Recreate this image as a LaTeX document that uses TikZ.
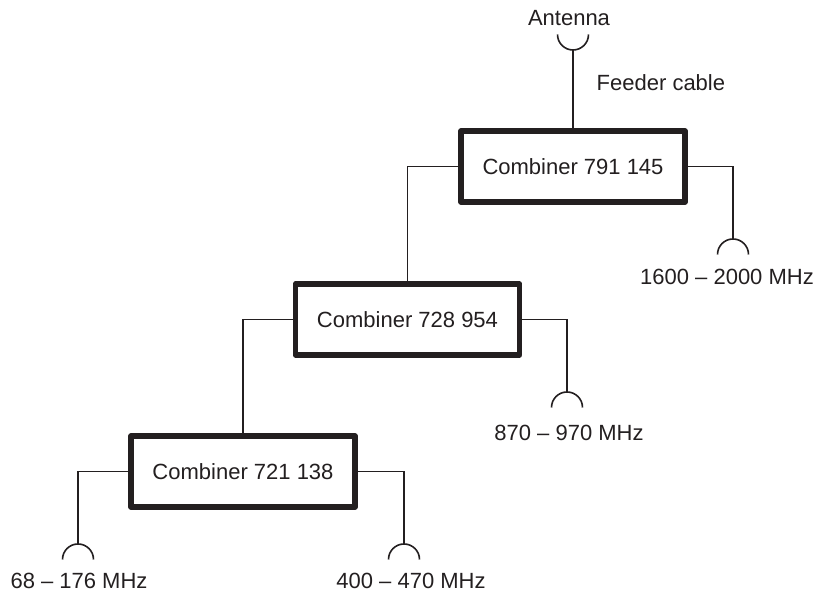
\documentclass[tikz,border=0pt]{standalone}
\usepackage{fontspec}
\setmainfont{Liberation Sans}
\usetikzlibrary{positioning}
\definecolor{inkblack}{HTML}{231F20}
\tikzset{
  combiner/.style={draw=inkblack,line width=4.2pt,line join=round,fill=white,minimum width=168pt,minimum height=53.25pt,inner sep=0pt},
  cable/.style={draw=inkblack,line width=1.2pt},
  cup/.style={draw=inkblack,line width=1.2pt},
  every node/.style={font=\fontsize{16.5}{18}\selectfont,text=inkblack}
}
\begin{document}
\begin{tikzpicture}[x=0.75pt,y=0.75pt]
  \useasboundingbox (0,0) rectangle (815,595);
  % combiners
  \node[combiner] (cmb1) at (573,428.5) {Combiner 791 145};
  \node[combiner] (cmb2) at (407.5,275.5) {Combiner 728 954};
  \node[combiner] (cmb3) at (243,123.5) {Combiner 721 138};
  % antenna and feeder
  \coordinate (ant) at (573,545);
  \node (antlabel) at (569,577) {Antenna};
  \node[right] (feeder) at (592,512) {Feeder cable};
  \draw[cup] (557.5,560.5) arc (180:360:15.5);
  \draw[cable] (ant) -- (cmb1.north);
  % band inputs
  \coordinate (in1) at (733,356);
  \coordinate (in2) at (567,203);
  \coordinate (in3) at (78,51);
  \coordinate (in4) at (404,51);
  \foreach \p in {in1,in2,in3,in4}
    \draw[cup] (\p) ++(-15.5,-15.5) arc (180:0:15.5);
  \node (band1) at (727,318) {1600 – 2000 MHz};
  \node (band2) at (569,162) {870 – 970 MHz};
  \node (band3) at (79,14) {68 – 176 MHz};
  \node (band4) at (411,14) {400 – 470 MHz};
  % connectors
  \draw[cable] (cmb1.east) -| (in1);
  \draw[cable] (cmb1.west) -| (cmb2.north);
  \draw[cable] (cmb2.east) -| (in2);
  \draw[cable] (cmb2.west) -| (cmb3.north);
  \draw[cable] (cmb3.east) -| (in4);
  \draw[cable] (cmb3.west) -| (in3);
\end{tikzpicture}
\end{document}
